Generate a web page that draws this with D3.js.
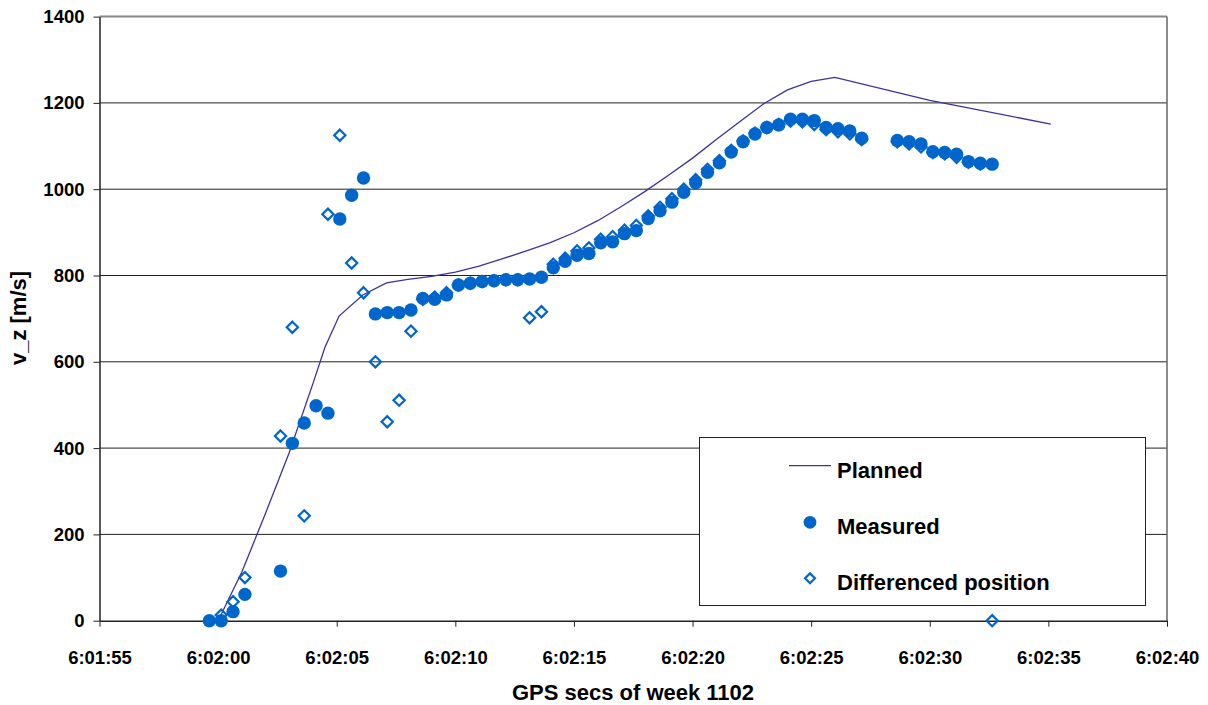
<!DOCTYPE html>
<html>
<head>
<meta charset="utf-8">
<script src="https://cdn.jsdelivr.net/npm/d3@7"></script>
<style>
  body { margin: 0; background: #fff; }
  svg text { font-family: "Liberation Sans", Arial, sans-serif; font-weight: bold; }
</style>
</head>
<body>
<div id="chart"></div>
<script>
// seconds after 6:02:00 (GPS week 1102)
const measuredT = [-0.37, 0.13, 0.63, 1.13, 2.63, 3.13, 3.63, 4.13, 4.63, 5.13, 5.63, 6.13, 6.63, 7.13, 7.63, 8.13,
  8.63, 9.13, 9.63, 10.13, 10.63, 11.13, 11.63, 12.13, 12.63, 13.13, 13.63, 14.13, 14.63, 15.13, 15.63, 16.13,
  16.63, 17.13, 17.63, 18.13, 18.63, 19.13, 19.63, 20.13, 20.63, 21.13, 21.63, 22.13, 22.63, 23.13, 23.63, 24.13,
  24.63, 25.13, 25.63, 26.13, 26.63, 27.13, 28.63, 29.13, 29.63, 30.13, 30.63, 31.13, 31.63, 32.13, 32.63];
const measuredV = [0, 0, 21, 61, 115, 411, 458, 498, 481, 931, 986, 1026, 711, 714, 714, 720,
  747, 745, 755, 778, 782, 786, 788, 790, 790, 792, 796, 818, 833, 847, 851, 876,
  878, 897, 904, 932, 950, 970, 993, 1015, 1039, 1061, 1086, 1110, 1128, 1143, 1149, 1162,
  1162, 1159, 1143, 1140, 1135, 1118, 1113, 1110, 1105, 1087, 1085, 1081, 1064, 1060, 1058];

const diffT = [0.13, 0.63, 1.13, 2.63, 3.13, 3.63, 4.63, 5.13, 5.63, 6.13, 6.63, 7.13, 7.63, 8.13,
  8.63, 9.13, 9.63, 10.13, 10.63, 11.13, 11.63, 12.13, 12.63, 13.13, 13.63, 14.13, 14.63, 15.13, 15.63, 16.13,
  16.63, 17.13, 17.63, 18.13, 18.63, 19.13, 19.63, 20.13, 20.63, 21.13, 21.63, 22.13, 22.63, 23.13, 23.63, 24.13,
  24.63, 25.13, 25.63, 26.13, 26.63, 27.13, 28.63, 29.13, 29.63, 30.13, 30.63, 31.13, 31.63, 32.13, 32.63];
const diffV = [13, 44, 100, 428, 680, 243, 942, 1125, 829, 760, 600, 461, 511, 671,
  745, 750, 760, 778, 782, 786, 788, 790, 790, 702, 716, 826, 840, 857, 864, 884,
  890, 905, 916, 938, 958, 978, 1000, 1022, 1046, 1066, 1090, 1112, 1130, 1143, 1150, 1158,
  1156, 1150, 1138, 1133, 1128, 1115, 1110, 1105, 1098, 1085, 1082, 1074, 1062, 1058, 0];

const plannedT = [0, 1, 2, 3, 4, 4.5, 5.1, 6.1, 7.1, 8, 9, 10, 11, 12, 13, 14, 15, 16, 17, 18, 19, 20,
  21, 22, 23, 24, 25, 26, 30, 35.1];
const plannedV = [0, 113, 249, 390, 550, 633, 706, 755, 783, 791, 798, 808, 822, 839, 857, 876, 899, 927,
  960, 995, 1033, 1072, 1115, 1157, 1198, 1230, 1250, 1259, 1206, 1151];

const yTicks = [0, 200, 400, 600, 800, 1000, 1200, 1400];
const xTicks = [-5, 0, 5, 10, 15, 20, 25, 30, 35, 40];

const W = 1208, H = 705;
const plotLeft = 99.5, plotRight = 1167, plotTop = 16.6, plotBottom = 620.7;
const blue = "#0066cc";

const svg = d3.select("#chart").append("svg")
    .attr("width", W)
    .attr("height", H);

const x = d3.scaleLinear().domain([-5, 40]).range([plotLeft, plotRight]);
const y = d3.scaleLinear().domain([0, 1400]).range([plotBottom, plotTop]);

function fmtTime(t) {
    const s = 6 * 3600 + 2 * 60 + t;
    const h = Math.floor(s / 3600);
    const m = Math.floor((s % 3600) / 60);
    const sec = Math.round(s % 60);
    return h + ":" + String(m).padStart(2, "0") + ":" + String(sec).padStart(2, "0");
}

// gridlines
svg.append("g")
    .selectAll("line")
    .data(yTicks.filter(d => d > 0 && d < 1400))
    .enter()
    .append("line")
    .attr("x1", plotLeft).attr("x2", plotRight)
    .attr("y1", d => y(d)).attr("y2", d => y(d))
    .attr("stroke", "#222")
    .attr("stroke-width", 1);

// plot frame top/right
svg.append("line")
    .attr("x1", plotLeft).attr("x2", plotRight)
    .attr("y1", y(1400)).attr("y2", y(1400))
    .attr("stroke", "#888").attr("stroke-width", 2);
svg.append("line")
    .attr("x1", plotRight).attr("x2", plotRight)
    .attr("y1", plotTop).attr("y2", plotBottom)
    .attr("stroke", "#666").attr("stroke-width", 1.5);

// axes
const yAxis = svg.append("g")
    .attr("transform", `translate(${plotLeft},0)`)
    .call(d3.axisLeft(y).tickValues(yTicks).tickFormat(d3.format("d"))
        .tickSize(6).tickPadding(9).tickSizeOuter(0));
const xAxis = svg.append("g")
    .attr("transform", `translate(0,${plotBottom})`)
    .call(d3.axisBottom(x).tickValues(xTicks).tickFormat(fmtTime)
        .tickSize(6).tickPadding(24).tickSizeOuter(0));

[yAxis, xAxis].forEach(a => {
    a.attr("font-family", null).attr("font-size", null);
    a.select(".domain").attr("stroke", "#222").attr("stroke-width", 1.5);
    a.selectAll(".tick line").attr("stroke", "#222");
    a.selectAll("text")
        .attr("fill", "#000")
        .attr("font-weight", "bold")
        .style("font-size", "18.5px");
});

// axis titles
svg.append("text")
    .attr("x", 633).attr("y", 700)
    .attr("text-anchor", "middle")
    .style("font-size", "22px")
    .text("GPS secs of week 1102");
svg.append("text")
    .attr("transform", "translate(26,318) rotate(-90)")
    .attr("text-anchor", "middle")
    .style("font-size", "22px")
    .text("v_z [m/s]");

// planned line
const planned = plannedT.map((t, i) => [t, plannedV[i]]);
svg.append("path")
    .datum(planned)
    .attr("fill", "none")
    .attr("stroke", "#3a3399")
    .attr("stroke-width", 1.3)
    .attr("d", d3.line().x(d => x(d[0])).y(d => y(d[1])));

// differenced position (hollow diamonds)
const diamond = d3.symbol().type(d3.symbolDiamond2).size(80);
const diff = diffT.map((t, i) => [t, diffV[i]]);
svg.append("g")
    .selectAll("path")
    .data(diff)
    .enter()
    .append("path")
    .attr("d", diamond)
    .attr("transform", d => `translate(${x(d[0])},${y(d[1])})`)
    .attr("fill", "none")
    .attr("stroke", blue)
    .attr("stroke-width", 2.2);

// measured (filled circles)
const measured = measuredT.map((t, i) => [t, measuredV[i]]);
svg.append("g")
    .selectAll("circle")
    .data(measured)
    .enter()
    .append("circle")
    .attr("cx", d => x(d[0]))
    .attr("cy", d => y(d[1]))
    .attr("r", 6.7)
    .attr("fill", blue);

// legend
const lg = svg.append("g");
lg.append("rect")
    .attr("x", 699.5).attr("y", 437.5)
    .attr("width", 446).attr("height", 168)
    .attr("fill", "#fff")
    .attr("stroke", "#222")
    .attr("stroke-width", 1);
lg.append("line")
    .attr("x1", 789).attr("x2", 831)
    .attr("y1", 465.7).attr("y2", 465.7)
    .attr("stroke", "#3a3399").attr("stroke-width", 1.3);
lg.append("circle")
    .attr("cx", 810).attr("cy", 522.3).attr("r", 6.4)
    .attr("fill", blue);
lg.append("path")
    .attr("d", d3.symbol().type(d3.symbolDiamond2).size(62)())
    .attr("transform", "translate(810,578.3)")
    .attr("fill", "none")
    .attr("stroke", blue)
    .attr("stroke-width", 2.2);
const legendLabels = ["Planned", "Measured", "Differenced position"];
const legendY = [477.7, 534, 590];
lg.selectAll("text.lbl")
    .data(legendLabels)
    .enter()
    .append("text")
    .attr("class", "lbl")
    .attr("x", 837)
    .attr("y", (d, i) => legendY[i])
    .style("font-size", "22px")
    .text(d => d);
</script>
</body>
</html>
